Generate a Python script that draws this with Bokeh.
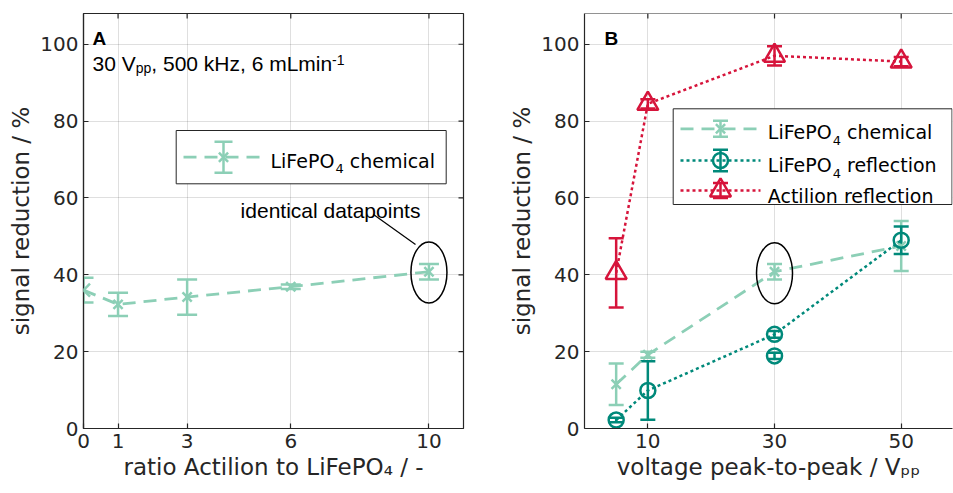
from bokeh.plotting import figure
from bokeh.models import Range1d, FixedTicker, Span, Whisker, TeeHead, ColumnDataSource, Arrow
from bokeh.layouts import row
from bokeh.embed import file_html
from bokeh.resources import INLINE
from bokeh.core.properties import value

# ---------------- data ----------------
ratio_x = [0, 1, 3, 6, 10]
ratio_ticks = [0, 1, 3, 6, 10]
chem_ratio_y = [36.0, 32.3, 34.2, 36.9, 40.8]
chem_ratio_err = [3.2, 3.0, 4.6, 0.6, 2.0]

volt_x = [5, 10, 30, 50]
volt_ticks = [10, 30, 50]
chem_volt_y = [11.5, 19.2, 40.8, 47.5]
chem_volt_err = [5.4, 0.8, 2.0, 6.5]
refl_volt_y = [2.2, 9.9, 24.5, 49.0]
refl_volt_err = [0.6, 7.6, 0.9, 3.6]
refl_extra_x = [30]
refl_extra_y = [18.9]
refl_extra_err = [0.8]
acti_volt_y = [40.5, 84.5, 97.0, 95.5]
acti_volt_err = [9.0, 1.2, 2.5, 1.2]

y_ticks = [0, 20, 40, 60, 80, 100]

# ---------------- style ----------------
INK = "#262626"
LIGHT = "#8CCFB6"
DARK = "#00897A"
RED = "#D6143B"
YMAX = 108.0
H = 493
FT, FH = 13, 415
FB = H - FT - FH


def make_fig(width, bl, br, xmax, xticks, xlabel):
    p = figure(width=width, height=H, x_range=Range1d(0, xmax), y_range=Range1d(0, YMAX),
               output_backend="svg", toolbar_location=None,
               min_border_left=bl, min_border_right=br, min_border_top=FT, min_border_bottom=FB,
               background_fill_color="white", border_fill_color="white")
    p.xaxis.ticker = FixedTicker(ticks=xticks)
    p.yaxis.ticker = FixedTicker(ticks=y_ticks)
    p.xaxis.axis_label = xlabel
    p.yaxis.axis_label = "signal reduction / %"
    for ax in (p.xaxis[0], p.yaxis[0]):
        ax.major_tick_in = 5
        ax.major_tick_out = 0
        ax.minor_tick_line_color = None
        ax.axis_line_color = INK
        ax.axis_line_width = 1.2
        ax.major_tick_line_color = INK
        ax.major_tick_line_width = 1.2
        ax.major_label_text_font = "DejaVu Sans"
        ax.major_label_text_font_size = "20px"
        ax.major_label_text_color = INK
        ax.major_label_standoff = 5
        ax.axis_label_text_font = "DejaVu Sans"
        ax.axis_label_text_font_size = "23px"
        ax.axis_label_text_font_style = "normal"
        ax.axis_label_text_color = INK
        ax.axis_label_standoff = 3
    for g in (p.xgrid[0], p.ygrid[0]):
        g.grid_line_color = INK
        g.grid_line_alpha = 0.15
        g.grid_line_width = 1
    return p


def converters(left, w, xmax):
    X = lambda px: (px - left) / w * xmax
    Y = lambda py: (FT + FH - py) / FH * YMAX
    return X, Y


def errbars(p, x, y, e, color, cap):
    src = ColumnDataSource(dict(base=list(x),
                                lower=[a - b for a, b in zip(y, e)],
                                upper=[a + b for a, b in zip(y, e)]))
    w = Whisker(source=src, base="base", lower="lower", upper="upper", dimension="height",
                line_color=color, line_width=2.5,
                lower_head=TeeHead(size=cap, line_color=color, line_width=2.5),
                upper_head=TeeHead(size=cap, line_color=color, line_width=2.5))
    p.add_layout(w)


def put_text(p, X, Y, px, py, s, size, font="DejaVu Sans", style="normal", color="black", align="left"):
    p.text(x=[X(px)], y=[Y(py)], text=[s], text_font=value(font), text_font_size=value(f"{size}px"),
           text_font_style=style, text_color=color, text_align=align, text_baseline="alphabetic")


# =============== Panel A ===============
XMAX_A = 11.0
WA = 380
pA = make_fig(480, 83, 17, XMAX_A, ratio_ticks, "ratio Actilion to LiFePO\u2084 / -")
pA.outline_line_color = INK
pA.outline_line_width = 1.2
XA, YA = converters(83, WA, XMAX_A)

# top / right inward ticks
pA.segment(x0=ratio_ticks[1:], y0=[YMAX] * 4, x1=ratio_ticks[1:], y1=[YMAX - 5 * YMAX / FH] * 4,
           line_color=INK, line_width=1.2)
pA.segment(x0=[XMAX_A] * 5, y0=y_ticks[1:], x1=[XMAX_A - 5 * XMAX_A / WA] * 5, y1=y_ticks[1:],
           line_color=INK, line_width=1.2)

errbars(pA, ratio_x, chem_ratio_y, chem_ratio_err, LIGHT, 20)
pA.line(ratio_x, chem_ratio_y, line_color=LIGHT, line_width=2.8, line_dash="13 8")
# markers inside the frame as glyphs; the one sitting on the y axis drawn unclipped
inner = [i for i, xv in enumerate(ratio_x) if xv > 0]
pA.scatter([ratio_x[i] for i in inner], [chem_ratio_y[i] for i in inner], marker="x", size=13,
           line_color=LIGHT, line_width=2.5)
hx = 6.5 * XMAX_A / WA
hy = 6.5 * YMAX / FH
for i, xv in enumerate(ratio_x):
    if xv == 0:
        yv = chem_ratio_y[i]
        for s in (1, -1):
            pA.add_layout(Arrow(start=None, end=None, x_start=xv - hx, y_start=yv - s * hy,
                                x_end=xv + hx, y_end=yv + s * hy, line_color=LIGHT, line_width=2.5))

# identical datapoints marker
pA.ellipse(x=[ratio_x[-1]], y=[40.6], width=36, height=61, width_units="screen",
           height_units="screen", fill_color=None, line_color="black", line_width=1.5)
pA.line([XA(373), XA(415)], [YA(214), YA(244)], line_color="black", line_width=1.2)
put_text(pA, XA, YA, 330, 210, "identical datapoints", 21, font="Liberation Sans", align="center")

# panel letter + conditions
put_text(pA, XA, YA, 92, 38, "A", 19, font="Liberation Sans", style="bold")
put_text(pA, XA, YA, 92, 63.3, "30 V", 21, font="Liberation Sans")
put_text(pA, XA, YA, 135.2, 67.5, "pp", 14, font="Liberation Sans")
put_text(pA, XA, YA, 150.8, 63.3, ", 500 kHz, 6 mLmin", 21, font="Liberation Sans")
put_text(pA, XA, YA, 331.5, 59.5, "-1", 14, font="Liberation Sans")

# legend A
pA.quad(left=[XA(175.7)], right=[XA(445.7)], bottom=[YA(183.3)], top=[YA(130)],
        fill_color="white", line_color=INK, line_width=1)
pA.line([XA(183), XA(263)], [YA(156.7)] * 2, line_color=LIGHT, line_width=2.8, line_dash="13 8")
pA.segment(x0=[XA(223)], y0=[YA(141.2)], x1=[XA(223)], y1=[YA(172.2)], line_color=LIGHT, line_width=2.5)
pA.scatter([XA(223)] * 2, [YA(141.2), YA(172.2)], marker="dash", size=18, line_color=LIGHT, line_width=2.5)
pA.scatter([XA(223)], [YA(156.7)], marker="x", size=13, line_color=LIGHT, line_width=2.5)
put_text(pA, XA, YA, 270, 160, "LiFePO", 19)
put_text(pA, XA, YA, 334.9, 168, "4", 13)
put_text(pA, XA, YA, 349.2, 160, "chemical", 19)

# =============== Panel B ===============
XMAX_B = 58.1
pB = make_fig(473, 104, 1, XMAX_B, volt_ticks, "voltage peak-to-peak / V\u209a\u209a")
pB.outline_line_color = None
pB.add_layout(Span(location=YMAX, dimension="width", line_color=INK, line_width=1.2))
XB, YB = converters(584, 368, XMAX_B)

pB.segment(x0=volt_ticks, y0=[YMAX] * 3, x1=volt_ticks, y1=[YMAX - 5 * YMAX / FH] * 3,
           line_color=INK, line_width=1.2)

# LiFePO4 chemical
errbars(pB, volt_x, chem_volt_y, chem_volt_err, LIGHT, 15)
pB.line(volt_x, chem_volt_y, line_color=LIGHT, line_width=2.8, line_dash="13 8")
pB.scatter(volt_x, chem_volt_y, marker="x", size=13, line_color=LIGHT, line_width=2.5)

# LiFePO4 reflection
errbars(pB, volt_x, refl_volt_y, refl_volt_err, DARK, 15)
errbars(pB, refl_extra_x, refl_extra_y, refl_extra_err, DARK, 15)
pB.line(volt_x, refl_volt_y, line_color=DARK, line_width=2.5, line_dash="3 3")
pB.scatter(volt_x, refl_volt_y, marker="circle", size=15, fill_color=None, line_color=DARK, line_width=2.5)
pB.scatter(refl_extra_x, refl_extra_y, marker="circle", size=15, fill_color=None, line_color=DARK, line_width=2.5)

# Actilion reflection
errbars(pB, volt_x, acti_volt_y, acti_volt_err, RED, 15)
pB.line(volt_x, acti_volt_y, line_color=RED, line_width=2.5, line_dash="3 3")
pB.scatter(volt_x, acti_volt_y, marker="triangle", size=21, fill_color=None, line_color=RED, line_width=2.5)

pB.ellipse(x=[30], y=[40.4], width=36, height=61, width_units="screen",
           height_units="screen", fill_color=None, line_color="black", line_width=1.5)

put_text(pB, XB, YB, 604, 38.3, "B", 19, font="Liberation Sans", style="bold")

# legend B
pB.quad(left=[XB(672.7)], right=[XB(951.5)], bottom=[YB(204)], top=[YB(108.3)],
        fill_color="white", line_color=INK, line_width=1)
rows = [
    (128.3, LIGHT, "13 8", 2.8, 8.0, "x", 13),
    (160.0, DARK, "3 3", 2.5, 10.7, "circle", 15),
    (190.0, RED, "3 3", 2.5, 7.5, "triangle", 21),
]
for yc, col, dash, lw, eh, mk, ms in rows:
    pB.line([XB(680), XB(760)], [YB(yc)] * 2, line_color=col, line_width=lw, line_dash=dash)
    pB.segment(x0=[XB(720)], y0=[YB(yc - eh)], x1=[XB(720)], y1=[YB(yc + eh)], line_color=col, line_width=2.5)
    pB.scatter([XB(720)] * 2, [YB(yc - eh), YB(yc + eh)], marker="dash", size=15, line_color=col, line_width=2.5)
    pB.scatter([XB(720)], [YB(yc)], marker=mk, size=ms, fill_color=None, line_color=col, line_width=2.5)

put_text(pB, XB, YB, 767.3, 131.5, "LiFePO", 19)
put_text(pB, XB, YB, 832.2, 139.5, "4", 13)
put_text(pB, XB, YB, 846.5, 131.5, "chemical", 19)
put_text(pB, XB, YB, 767.3, 164.5, "LiFePO", 19)
put_text(pB, XB, YB, 832.2, 172.5, "4", 13)
put_text(pB, XB, YB, 846.5, 164.5, "reflection", 19)
put_text(pB, XB, YB, 767.3, 195.5, "Actilion reflection", 19)

layout = row(pA, pB)
open("out.html", "w").write(file_html(layout, INLINE))
